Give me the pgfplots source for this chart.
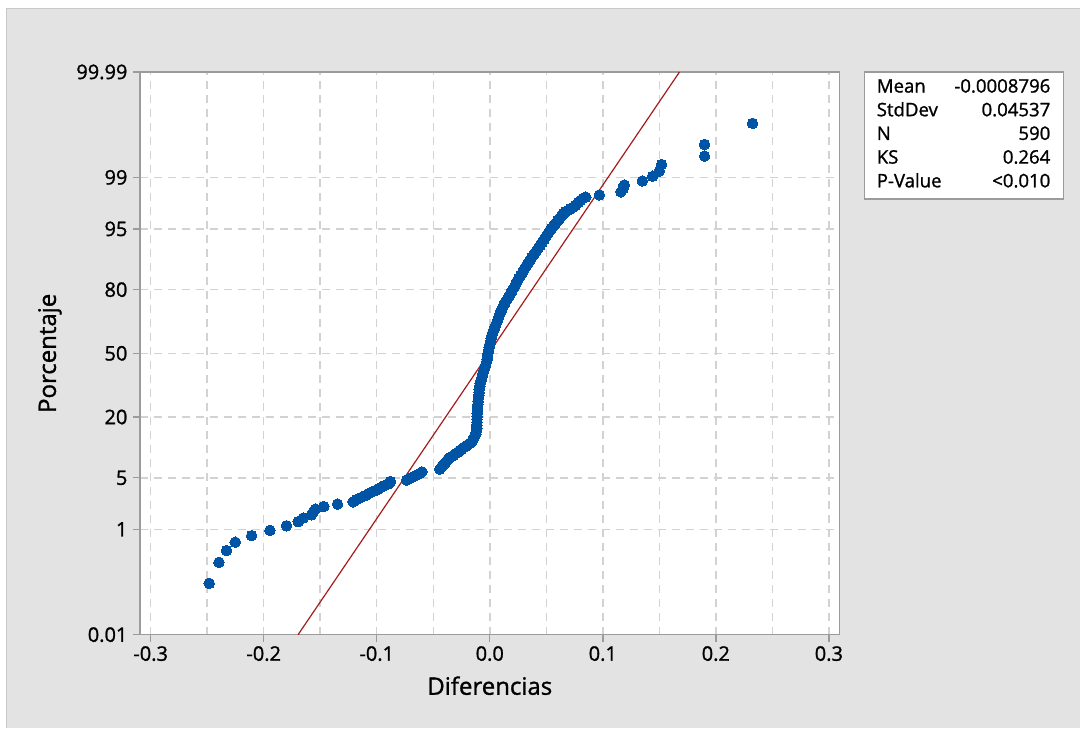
\documentclass[border=0pt]{standalone}
\usepackage{pgfplots}
\pgfplotsset{compat=1.18}
\usepackage{pgfplotstable}
\usepackage{fontspec}
\setmainfont{Open Sans}[UprightFeatures={FakeBold=1.2}]
\definecolor{mtblue}{RGB}{0,84,166}
\definecolor{mtred}{RGB}{165,28,28}
\definecolor{panel}{RGB}{227,227,227}
\definecolor{panelborder}{RGB}{200,200,200}
\definecolor{axgray}{RGB}{155,155,155}
\definecolor{gridgray}{RGB}{210,210,210}

% x = Diferencias, z = normal score of the plotting position
\pgfplotstableread{
x z
-0.2482 -3.040
-0.2396 -2.762
-0.2328 -2.607
-0.2252 -2.496
-0.2107 -2.410
-0.1945 -2.340
-0.1798 -2.279
-0.1695 -2.225
-0.1651 -2.177
-0.1577 -2.134
-0.1560 -2.094
-0.1540 -2.058
-0.1468 -2.024
-0.1347 -1.992
-0.1209 -1.962
-0.1180 -1.933
-0.1140 -1.906
-0.1100 -1.881
-0.1075 -1.857
-0.1045 -1.833
-0.1010 -1.811
-0.0985 -1.790
-0.0960 -1.769
-0.0930 -1.749
-0.0905 -1.730
-0.0884 -1.711
-0.0880 -1.693
-0.0737 -1.676
-0.0715 -1.659
-0.0690 -1.642
-0.0670 -1.626
-0.0650 -1.611
-0.0630 -1.596
-0.0612 -1.581
-0.0600 -1.567
-0.0442 -1.530
-0.0424 -1.497
-0.0407 -1.470
-0.0389 -1.437
-0.0371 -1.404
-0.0354 -1.378
-0.0336 -1.365
-0.0318 -1.345
-0.0301 -1.325
-0.0283 -1.306
-0.0265 -1.286
-0.0248 -1.266
-0.0230 -1.246
-0.0212 -1.226
-0.0195 -1.211
-0.0177 -1.193
-0.0159 -1.167
-0.0146 -1.134
-0.0137 -1.101
-0.0124 -1.068
-0.0118 -1.029
-0.0115 -0.989
-0.0115 -0.949
-0.0113 -0.910
-0.0113 -0.870
-0.0112 -0.831
-0.0111 -0.791
-0.0109 -0.752
-0.0107 -0.712
-0.0105 -0.673
-0.0103 -0.633
-0.0101 -0.593
-0.0098 -0.554
-0.0095 -0.514
-0.0093 -0.475
-0.0089 -0.435
-0.0084 -0.396
-0.0077 -0.356
-0.0069 -0.316
-0.0064 -0.277
-0.0055 -0.237
-0.0046 -0.198
-0.0037 -0.158
-0.0030 -0.119
-0.0024 -0.079
-0.0019 -0.040
-0.0016 0.000
-0.0012 0.040
-0.0006 0.079
0.0000 0.119
0.0007 0.158
0.0013 0.198
0.0019 0.237
0.0027 0.277
0.0037 0.316
0.0048 0.356
0.0058 0.396
0.0068 0.435
0.0078 0.475
0.0088 0.514
0.0099 0.554
0.0110 0.593
0.0122 0.633
0.0137 0.673
0.0153 0.712
0.0168 0.752
0.0183 0.791
0.0199 0.831
0.0215 0.870
0.0228 0.910
0.0240 0.949
0.0256 0.989
0.0272 1.029
0.0288 1.068
0.0304 1.108
0.0320 1.147
0.0336 1.187
0.0354 1.226
0.0371 1.266
0.0389 1.306
0.0409 1.345
0.0427 1.385
0.0446 1.424
0.0464 1.464
0.0481 1.503
0.0498 1.543
0.0515 1.583
0.0531 1.622
0.0548 1.655
0.0566 1.688
0.0584 1.721
0.0601 1.754
0.0619 1.787
0.0637 1.820
0.0654 1.846
0.0672 1.873
0.0694 1.892
0.0716 1.912
0.0738 1.932
0.0760 1.958
0.0782 1.991
0.0805 2.024
0.0827 2.051
0.0849 2.064
0.0970 2.094
0.1160 2.134
0.1180 2.177
0.1190 2.225
0.1350 2.279
0.1440 2.340
0.1500 2.410
0.1520 2.496
0.1900 2.607
0.1900 2.762
0.2325 3.040
}\datatable

\pgfplotstableread{
x z
-0.16961 -3.719
0.16785 3.719
}\fittable

\begin{document}
\begin{tikzpicture}[x=1pt,y=1pt]
\fill[white] (0,0) rectangle (1080,728);
\fill[panel] (7,0) rectangle (1080,719);
\draw[panelborder,line width=1pt] (7,0) -- (7,719) -- (1080,719);
\begin{axis}[
  at={(140pt,93pt)}, anchor=south west,
  scale only axis, width=700pt, height=563pt,
  xmin=-0.3095, xmax=0.3095, ymin=-3.719, ymax=3.719,
  axis background/.style={fill=white},
  axis line style={axgray, line width=1.4pt},
  xtick={-0.3,-0.2,-0.1,0,0.1,0.2,0.3},
  xticklabels={-0.3,-0.2,-0.1,0.0,0.1,0.2,0.3},
  minor xtick={-0.25,-0.15,-0.05,0.05,0.15,0.25},
  ytick={-3.719,-2.3263,-1.6449,-0.8416,0,0.8416,1.6449,2.3263,3.719},
  yticklabels={0.01,1,5,20,50,80,95,99,99.99},
  xmajorgrids, xminorgrids, ymajorgrids,
  major grid style={gridgray, dash pattern=on 8pt off 6pt, line width=1.5pt},
  minor grid style={gridgray, dash pattern=on 8pt off 6pt, line width=1.5pt},
  tick align=outside, major tick length=7pt, minor tick length=0pt,
  tick style={axgray, line width=1.4pt},
  xtick pos=lower, ytick pos=left,
  ticklabel style={font=\fontsize{20}{24}\selectfont},
  yticklabel style={xshift=-2pt},
  xticklabel style={yshift=-1pt},
  xlabel={Diferencias}, ylabel={Porcentaje},
  label style={font=\fontsize{24}{28}\selectfont},
  xlabel style={at={(axis description cs:0.5,-0.0906)}, anchor=center},
  ylabel style={at={(axis description cs:-0.1286,0.5)}, anchor=center},
  clip=true,
]
\addplot[only marks, mark=*, mark size=5.3pt, color=mtblue, mark options={fill=mtblue, draw=mtblue, line width=0pt}] table[x=x, y=z] {\datatable};
\addplot[mtred, line width=1.2pt] table[x=x, y=z] {\fittable};
\end{axis}
\draw[axgray, fill=white, line width=1.3pt] (865,529) rectangle (1064,656);
\begin{scope}[every node/.style={inner sep=0pt, font=\fontsize{18.6}{22}\selectfont}]
\node[anchor=base west] at (877,635.4) {Mean};
\node[anchor=base east] at (1051,635.4) {-0.0008796};
\node[anchor=base west] at (877,611.7) {StdDev};
\node[anchor=base east] at (1051,611.7) {0.04537};
\node[anchor=base west] at (877,588.0) {N};
\node[anchor=base east] at (1051,588.0) {590};
\node[anchor=base west] at (877,564.3) {KS};
\node[anchor=base east] at (1051,564.3) {0.264};
\node[anchor=base west] at (877,540.6) {P-Value};
\node[anchor=base east] at (1051,540.6) {<0.010};
\end{scope}
\end{tikzpicture}
\end{document}
